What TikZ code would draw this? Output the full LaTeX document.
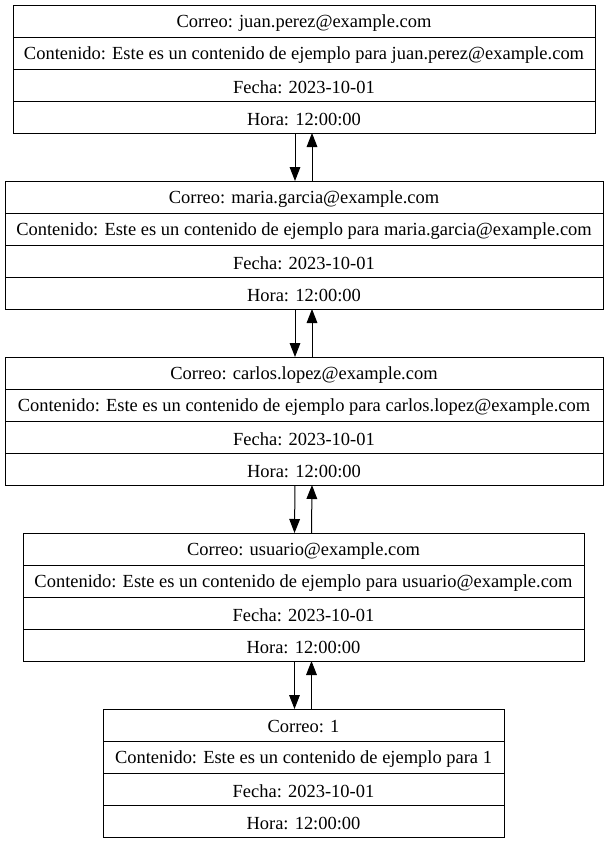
\documentclass[tikz,border=0pt]{standalone}
\usepackage{fontspec}
\setmainfont{Liberation Serif}
\usetikzlibrary{fit,arrows.meta}
\tikzset{
  recbox/.style={draw, line width=0.75pt, inner sep=0pt, outer sep=0pt},
  rowtext/.style={inner sep=0pt, font=\fontsize{13.85}{16}\selectfont},
  sepline/.style={line width=0.75pt},
  arr/.style={line width=0.75pt, -{Triangle[length=10.5pt,width=8pt]}}
}
\newcommand{\mkrec}[6]{%
  \node[recbox, fit={({#2},{#4}) ({#3},{#4+128})}] (#1) {};
  \node[rowtext] (#1-c) at ({(#2+#3)/2},{#4+18}) {Correo: #5};
  \node[rowtext] (#1-t) at ({(#2+#3)/2},{#4+50}) {Contenido: Este es un contenido de ejemplo para #6};
  \node[rowtext] (#1-f) at ({(#2+#3)/2},{#4+82}) {Fecha: 2023-10-01};
  \node[rowtext] (#1-h) at ({(#2+#3)/2},{#4+114}) {Hora: 12:00:00};
  \draw[sepline] ({#2},{#4+32}) -- ({#3},{#4+32});
  \draw[sepline] ({#2},{#4+64}) -- ({#3},{#4+64});
  \draw[sepline] ({#2},{#4+96}) -- ({#3},{#4+96});
}
\begin{document}
\begin{tikzpicture}[x=0.75pt,y=-0.75pt]
\useasboundingbox (0,0) rectangle (608,843);
\mkrec{b1}{13}{595}{5}{juan.perez@example.com}{juan.perez@example.com}
\mkrec{b2}{5}{603}{181}{maria.garcia@example.com}{maria.garcia@example.com}
\mkrec{b3}{5}{603}{357}{carlos.lopez@example.com}{carlos.lopez@example.com}
\mkrec{b4}{23}{584}{533}{usuario@example.com}{usuario@example.com}
\mkrec{b5}{103}{504}{709}{1}{1}
\foreach \a/\b in {b1/b2,b2/b3,b3/b4,b4/b5}{
  \draw[arr] ([xshift=-6.75pt]\a.south) -- ([xshift=-6.75pt]\b.north);
  \draw[arr] ([xshift=6pt]\b.north) -- ([xshift=6pt]\a.south);
}
\end{tikzpicture}
\end{document}
